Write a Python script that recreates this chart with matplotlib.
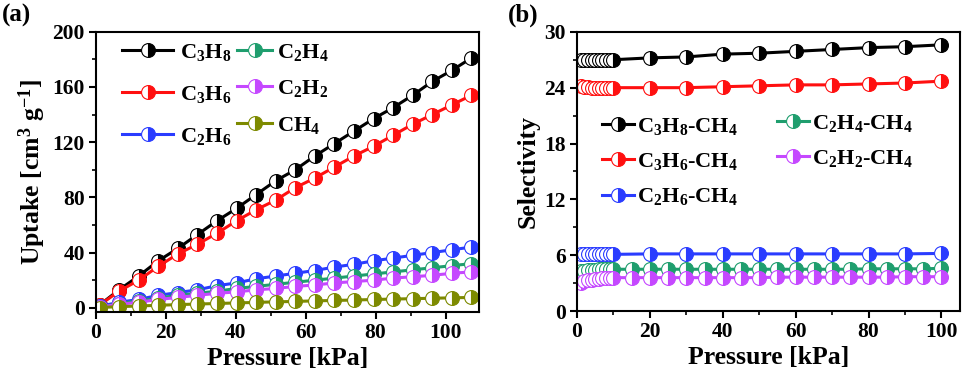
import matplotlib
matplotlib.use("Agg")
import matplotlib.pyplot as plt
from matplotlib.ticker import MultipleLocator

plt.rcParams['font.family'] = 'Liberation Serif'
plt.rcParams['font.weight'] = 'bold'
plt.rcParams['mathtext.fontset'] = 'custom'
plt.rcParams['mathtext.rm'] = 'Liberation Serif:bold'
plt.rcParams['mathtext.it'] = 'Liberation Serif:bold'
plt.rcParams['mathtext.bf'] = 'Liberation Serif:bold'
plt.rcParams['axes.linewidth'] = 1.5

# ---- (a) uptake isotherms ----
pressure = [1.0, 6.6, 12.2, 17.8, 23.4, 29.0, 34.6, 40.2, 45.8, 51.4,
            57.0, 62.6, 68.2, 73.8, 79.4, 85.0, 90.6, 96.2, 101.8, 107.4]
c3h8 = [2, 13, 23, 34, 43, 53, 63, 72, 82, 92,
        100, 110, 119, 128, 137, 145, 154, 164, 172, 181]
c3h6 = [2, 12, 20, 30, 39, 46, 54, 63, 71, 78,
        87, 94, 102, 110, 117, 125, 133, 140, 147, 154]
c2h6 = [1, 4, 6, 9, 11, 13, 16, 18, 21, 23,
        25, 27, 29.5, 31.5, 34, 36, 38, 40, 42, 44]
c2h4 = [0.5, 3, 5, 7, 9, 10.5, 12, 14, 15.5, 17,
        18.5, 20, 21.5, 23, 24.5, 26, 27.5, 29, 30.5, 32]
c2h2 = [0.5, 2.5, 4, 6, 7.5, 9, 10.5, 11.5, 13, 14,
        15.5, 16.5, 18, 19, 20, 21.5, 22.5, 23.5, 25, 26]
ch4 = [0.2, 0.8, 1.3, 1.8, 2.3, 2.7, 3.1, 3.5, 3.9, 4.3,
       4.6, 5.0, 5.3, 5.6, 6.0, 6.3, 6.6, 6.9, 7.2, 7.5]

# ---- (b) selectivity ----
p_sel = [1, 2, 3, 4, 5, 6, 7, 8, 9, 10, 20, 30, 40, 50, 60, 70, 80, 90, 100]
p_sel2 = [1, 2, 3, 4, 5, 6, 7, 8, 9, 10, 15, 20, 25, 30, 35, 40, 45, 50,
          55, 60, 65, 70, 75, 80, 85, 90, 95, 100]
s_c3h8 = [27.0, 27.0, 27.0, 27.0, 27.0, 27.0, 27.0, 27.0, 27.0, 27.0,
          27.2, 27.3, 27.6, 27.7, 27.9, 28.1, 28.3, 28.4, 28.6]
s_c3h6 = [24.2, 24.1, 24.1, 24.0, 24.0, 24.0, 24.0, 24.0, 24.0, 24.0,
          24.0, 24.0, 24.1, 24.2, 24.3, 24.3, 24.4, 24.5, 24.7]
s_c2h6 = [6.1, 6.1, 6.1, 6.1, 6.1, 6.1, 6.1, 6.1, 6.1, 6.1,
          6.15, 6.15, 6.15, 6.15, 6.15, 6.15, 6.15, 6.15, 6.2]
s_c2h4 = [4.3, 4.35, 4.4, 4.45, 4.45, 4.5, 4.5, 4.5, 4.5, 4.5,
          4.5, 4.5, 4.5, 4.5, 4.5, 4.5, 4.5, 4.5, 4.5, 4.5,
          4.5, 4.5, 4.5, 4.55, 4.55, 4.55, 4.55, 4.6]
s_c2h2 = [3.05, 3.2, 3.3, 3.4, 3.45, 3.5, 3.55, 3.55, 3.6, 3.6,
          3.6, 3.6, 3.6, 3.6, 3.6, 3.6, 3.6, 3.6, 3.65, 3.65,
          3.65, 3.65, 3.65, 3.65, 3.65, 3.7, 3.7, 3.7]

black = 'black'
red = '#ff1010'
blue = '#2a3cff'
green = '#1f9e6e'
magenta = '#c548ff'
olive = '#7d8a00'

fig = plt.figure(figsize=(9.64, 3.74), dpi=100)
ax1 = fig.add_axes([0.0996, 0.166, 0.397, 0.749])
ax2 = fig.add_axes([0.5985, 0.168, 0.397, 0.747])


def draw(ax, x, y, color, label):
    line, = ax.plot(x, y, '-o', color=color, lw=2.2, ms=10, fillstyle='right',
                    markerfacecolor=color, markerfacecoloralt='white',
                    markeredgecolor=color, markeredgewidth=0.8, label=label)
    return line


a1 = draw(ax1, pressure, c3h8, black, r'C$_3$H$_8$')
a2 = draw(ax1, pressure, c3h6, red, r'C$_3$H$_6$')
a3 = draw(ax1, pressure, c2h6, blue, r'C$_2$H$_6$')
a4 = draw(ax1, pressure, c2h4, green, r'C$_2$H$_4$')
a5 = draw(ax1, pressure, c2h2, magenta, r'C$_2$H$_2$')
a6 = draw(ax1, pressure, ch4, olive, r'CH$_4$')

b1 = draw(ax2, p_sel, s_c3h8, black, r'C$_3$H$_8$-CH$_4$')
b2 = draw(ax2, p_sel, s_c3h6, red, r'C$_3$H$_6$-CH$_4$')
b3 = draw(ax2, p_sel, s_c2h6, blue, r'C$_2$H$_6$-CH$_4$')
b4 = draw(ax2, p_sel2, s_c2h4, green, r'C$_2$H$_4$-CH$_4$')
b5 = draw(ax2, p_sel2, s_c2h2, magenta, r'C$_2$H$_2$-CH$_4$')

ax1.set_xlim(0, 109.5)
ax1.set_ylim(-3, 200)
ax1.xaxis.set_major_locator(MultipleLocator(20))
ax1.xaxis.set_minor_locator(MultipleLocator(10))
ax1.yaxis.set_major_locator(MultipleLocator(40))
ax1.yaxis.set_minor_locator(MultipleLocator(20))
ax1.set_xlabel('Pressure [kPa]', fontsize=18.5, fontweight='bold', labelpad=3)
ax1.set_ylabel(r'Uptake [cm$^3$ g$^{-1}$]', fontsize=18.5, fontweight='bold', labelpad=3)

ax2.set_xlim(0, 105)
ax2.set_ylim(0, 30)
ax2.xaxis.set_major_locator(MultipleLocator(20))
ax2.xaxis.set_minor_locator(MultipleLocator(10))
ax2.yaxis.set_major_locator(MultipleLocator(6))
ax2.yaxis.set_minor_locator(MultipleLocator(3))
ax2.set_xlabel('Pressure [kPa]', fontsize=18.5, fontweight='bold', labelpad=3)
ax2.set_ylabel('Selectivity', fontsize=18.5, fontweight='bold', labelpad=3)

for ax in (ax1, ax2):
    ax.tick_params(which='major', direction='out', length=5, width=1.5, labelsize=15.5, pad=3)
    ax.tick_params(which='minor', direction='out', length=3, width=1.2)
    for lab in ax.get_xticklabels() + ax.get_yticklabels():
        lab.set_fontweight('bold')

kw = dict(loc='upper left', frameon=False, fontsize=16, numpoints=1,
          borderpad=0, borderaxespad=0)
leg1 = ax1.legend(handles=[a1, a2, a3], bbox_to_anchor=(0.068, 0.965),
                  handlelength=2.3, handletextpad=0.3, labelspacing=0.95, **kw)
ax1.add_artist(leg1)
ax1.legend(handles=[a4, a5, a6], bbox_to_anchor=(0.368, 0.965),
           handlelength=1.6, handletextpad=0.2, labelspacing=0.7, **kw)

leg3 = ax2.legend(handles=[b1, b2, b3], bbox_to_anchor=(0.065, 0.70),
                  handlelength=1.45, handletextpad=0.15, labelspacing=0.65, **kw)
ax2.add_artist(leg3)
ax2.legend(handles=[b4, b5], bbox_to_anchor=(0.522, 0.71),
           handlelength=1.45, handletextpad=0.15, labelspacing=0.65, **kw)

fig.text(0.002, 0.99, '(a)', fontsize=18, fontweight='bold', va='top', ha='left')
fig.text(0.527, 0.99, '(b)', fontsize=18, fontweight='bold', va='top', ha='left')

plt.savefig('out.png', dpi=100)
